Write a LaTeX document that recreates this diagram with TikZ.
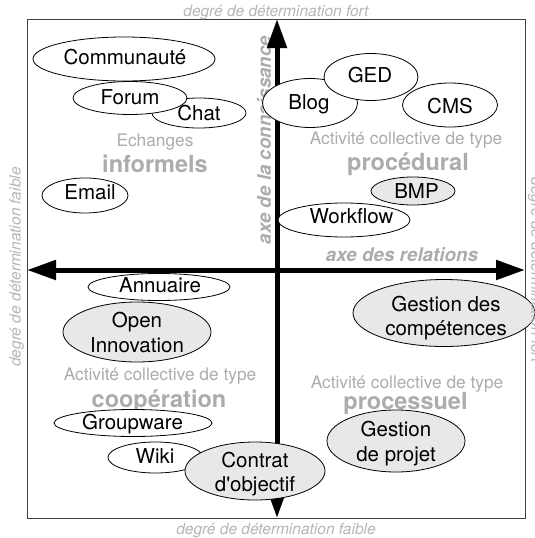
\documentclass[tikz,border=0pt]{standalone}
\usepackage{fontspec}
\setmainfont{TeX Gyre Heros}
\usetikzlibrary{arrows.meta,shapes.geometric}
\definecolor{softgray}{RGB}{172,172,172}
\definecolor{sidegray}{RGB}{182,182,182}
\definecolor{bubblefill}{RGB}{232,232,232}
\begin{document}
\begin{tikzpicture}[x=1pt,y=-1pt,
  bubble/.style={ellipse, draw=black, line width=0.8pt, fill=white, inner sep=0pt},
  shaded/.style={bubble, fill=bubblefill},
  tooltext/.style={inner sep=0pt, text height=14.7pt, text depth=0pt, align=center,
    font=\fontsize{20.5}{24.6}\selectfont},
  tooltwo/.style={tooltext, text height=39.3pt},
  kindtext/.style={text=softgray, inner sep=0pt, text height=12.4pt, text depth=0pt,
    font=\fontsize{17.3}{20}\selectfont},
  kindbold/.style={text=softgray, inner sep=0pt, text height=16.9pt, text depth=0pt,
    font=\bfseries\fontsize{23.5}{28}\selectfont},
  axisname/.style={text=softgray, inner sep=0pt, text height=13.5pt, text depth=0pt,
    font=\bfseries\itshape\fontsize{18.8}{22}\selectfont},
  sidename/.style={text=sidegray, inner sep=0pt, text height=11.1pt, text depth=0pt,
    font=\itshape\fontsize{15.5}{18}\selectfont},
  axisline/.style={line width=5pt,
    {Triangle[length=29pt,width=19pt]}-{Triangle[length=29pt,width=19pt]}},
  framebox/.style={draw=black!75, line width=0.8pt}
]
\useasboundingbox (0,0) rectangle (535,538);
\fill[white] (0,0) rectangle (535,538);

% frame and outer labels
\draw[framebox] (27,19) rectangle (525,518);
\node[sidename] (topname) at (276,10.5) {degré de détermination fort};
\node[sidename] (botname) at (276,529) {degré de détermination faible};
\node[sidename, rotate=90] (leftname) at (15,267) {degré de détermination faible};

% quadrant captions
\node[kindtext] (k1a) at (155,140) {Echanges};
\node[kindbold] (k1b) at (155,164) {informels};
\node[kindtext] (k2a) at (406,138) {Activité collective de type};
\node[kindbold] (k2b) at (408,162.5) {procédural};
\node[kindtext] (k3a) at (160,374) {Activité collective de type};
\node[kindbold] (k3b) at (159,399.5) {coopération};
\node[kindtext] (k4a) at (407,382.5) {Activité collective de type};
\node[kindbold] (k4b) at (405.5,401.5) {processuel};

% axis names
\node[axisname, rotate=90] (vname) at (264,140) {axe de la connaissance};
\node[axisname] (hname) at (402,255) {axe des relations};

% axes
\coordinate (vtop) at (277,19);
\coordinate (vbot) at (277,518);
\coordinate (hleft) at (27,270);
\coordinate (hright) at (525,270);
\draw[axisline] (vbot) -- (vtop);
\draw[axisline] (hleft) -- (hright);

% tools: informal exchanges
\node[bubble, minimum width=182pt, minimum height=44pt] (comm) at (124,59) {};
\node[tooltext] (comm t) at (125,57) {Communauté};
\node[bubble, minimum width=94pt, minimum height=30pt] (chat) at (199,113) {};
\node[tooltext] (chat t) at (199,113.5) {Chat};
\node[bubble, minimum width=114pt, minimum height=33pt] (forum) at (130,98) {};
\node[tooltext] (forum t) at (130,97.5) {Forum};
\node[bubble, minimum width=86pt, minimum height=35pt] (email) at (85,195.5) {};
\node[tooltext] (email t) at (90,192.5) {Email};

% tools: procedural
\node[bubble, minimum width=95pt, minimum height=49pt] (blog) at (310,103) {};
\node[tooltext] (blog t) at (309,102.5) {Blog};
\node[bubble, minimum width=94pt, minimum height=47pt] (ged) at (371,77) {};
\node[tooltext] (ged t) at (370,75) {GED};
\node[bubble, minimum width=95pt, minimum height=44pt] (cms) at (450,105) {};
\node[tooltext] (cms t) at (450,106.5) {CMS};
\node[shaded, minimum width=84pt, minimum height=28pt] (bmp) at (413,191) {};
\node[tooltext] (bmp t) at (416.5,191.5) {BMP};
\node[bubble, minimum width=132pt, minimum height=34pt] (workflow) at (344,220) {};
\node[tooltext] (workflow t) at (351.5,216.5) {Workflow};

% tools: cooperation
\node[bubble, minimum width=142pt, minimum height=27pt] (annuaire) at (159,287) {};
\node[tooltext] (annuaire t) at (160,285) {Annuaire};
\node[shaded, minimum width=148pt, minimum height=60pt] (openinno) at (137,332) {};
\node[tooltwo] (openinno t) at (137,332.5) {Open\\Innovation};
\node[bubble, minimum width=158pt, minimum height=27pt] (groupware) at (133,423) {};
\node[tooltext] (groupware t) at (132.5,422.5) {Groupware};
\node[bubble, minimum width=95pt, minimum height=31pt] (wiki) at (155.5,457.5) {};
\node[tooltext] (wiki t) at (155,456.5) {Wiki};
\node[shaded, minimum width=140pt, minimum height=58pt] (contrat) at (255,471) {};
\node[tooltwo] (contrat t) at (255,472) {Contrat\\d\textquotesingle objectif};

% tools: process
\node[shaded, minimum width=182pt, minimum height=67pt] (competences) at (444,313) {};
\node[tooltwo] (competences t) at (446,316) {Gestion des\\compétences};
\node[shaded, minimum width=138pt, minimum height=62pt] (projet) at (396,441) {};
\node[tooltwo] (projet t) at (396,441.5) {Gestion\\de projet};

% right-hand label, printed over the process bubble
\node[sidename, rotate=-90] (rightname) at (537,270) {degré de détermination fort};
\end{tikzpicture}
\end{document}
